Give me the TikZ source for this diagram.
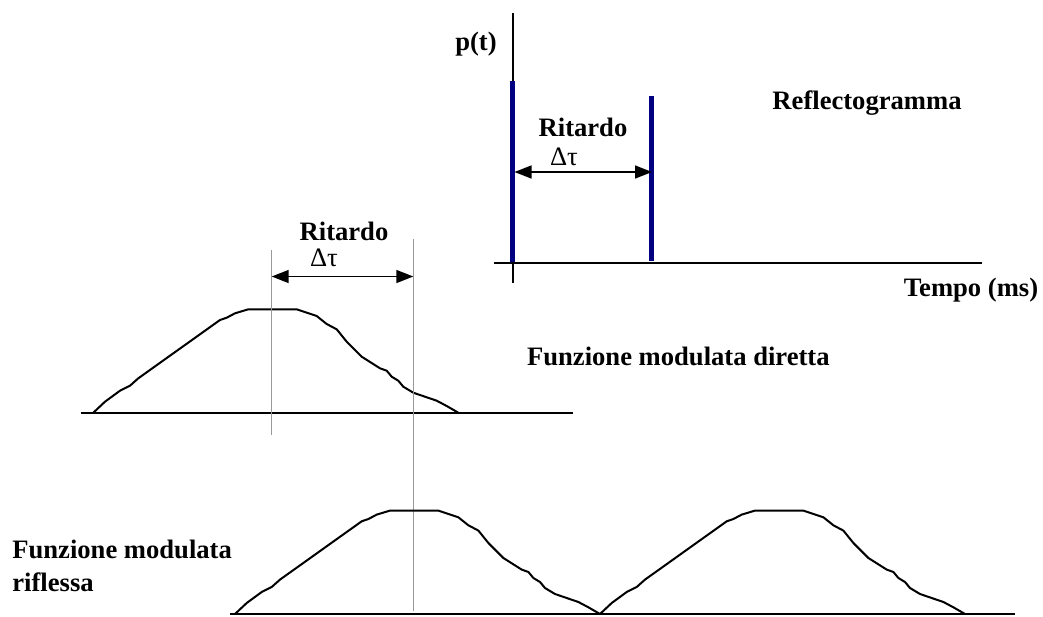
\documentclass[tikz,border=0pt]{standalone}
\usepackage{fontspec}
\setmainfont{Liberation Serif}
\usetikzlibrary{arrows.meta}
\definecolor{barra}{RGB}{0,0,128}
\tikzset{
  etichetta/.style={font=\bfseries\fontsize{13.3}{16.5}\selectfont,inner sep=0pt,anchor=base},
  ritardo/.style={font=\fontsize{13.3}{16}\selectfont,inner sep=0pt,anchor=base},
  freccia/.style={{Triangle[length=8.5pt,width=6.5pt]}-{Triangle[length=8.5pt,width=6.5pt]},line width=0.75pt},
  curva/.style={line width=1pt,line join=round},
  riferimento/.style={line width=0.5pt,black!40},
  impulso/.pic={
    \draw[curva] (0,0) -- (11.7,-11) -- (26.7,-22) -- (36.7,-27) -- (45,-34.4)
      -- (126.7,-92.7) -- (133.4,-95) -- (141.7,-99.4) -- (155,-103.4) -- (203.4,-103.4)
      -- (223.4,-96.7) -- (233.4,-88.7) -- (243.4,-83.4) -- (253.4,-71) -- (268.4,-56)
      -- (286.7,-44.4) -- (293.4,-42) -- (298.4,-36) -- (305,-32) -- (310,-26)
      -- (320,-20) -- (343.4,-12) -- (353.4,-6.7) -- (365,0);
  }
}
\begin{document}
\begin{tikzpicture}[x=0.5pt,y=-0.5pt]
\useasboundingbox (0,0) rectangle (1043,616);
% Reflectogramma
\draw[line width=1pt] (512.7,13) -- (512.7,283);
\draw[line width=1pt] (494,263) -- (982,263);
\draw[barra,line width=2.5pt] (512,81) coordinate (b1) -- (512,262);
\draw[barra,line width=2.5pt] (651,96) coordinate (b2) -- (651,261);
\coordinate (r1) at (514.5,172);
\coordinate (r2) at (652,172);
\draw[freccia] (r1) -- (r2);
\node[etichetta] (pt) at (476,50) {p(t)};
\node[etichetta] (rit1) at (583,136.7) {Ritardo};
\node[ritardo] (dt1) at (564,165.7) {Δτ};
\node[etichetta] (refl) at (867,109.3) {Reflectogramma};
\node[etichetta] (tempo) at (971,296) {Tempo (ms)};
% Funzione diretta
\draw[line width=1pt] (81,413) -- (573,413);
\pic (dir) at (93.3,412.7) {impulso};
\draw[riferimento] (271.7,250) coordinate (l1) -- (271.7,435);
\draw[riferimento] (413.3,239) coordinate (l2) -- (413.3,611);
\coordinate (r3) at (271.7,276.5);
\coordinate (r4) at (413.3,276.5);
\draw[freccia] (r3) -- (r4);
\node[etichetta] (rit2) at (344,240.7) {Ritardo};
\node[ritardo] (dt2) at (324,266.7) {Δτ};
\node[etichetta,anchor=base east] (dir) at (830,365) {Funzione modulata diretta};
% Funzione riflessa
\draw[line width=1pt] (230,614) -- (1015,614);
\pic (rif1) at (235,614) {impulso};
\pic (rif2) at (600,614) {impulso};
\node[etichetta,anchor=north west,align=left] (rif) at (12,540) {Funzione modulata\\riflessa};
\end{tikzpicture}
\end{document}
